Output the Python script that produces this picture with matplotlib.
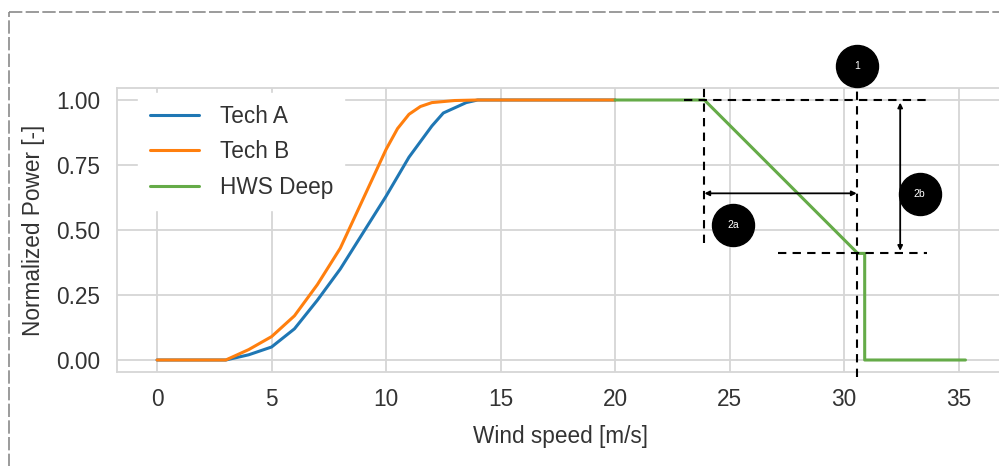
import numpy as np
import matplotlib
matplotlib.use("Agg")
import matplotlib.pyplot as plt
from matplotlib.lines import Line2D
import seaborn as sns

# Dados das curvas de potencia
wind_a = [0, 3, 4, 5, 6, 7, 8, 9, 10, 11, 12, 12.5, 13, 13.5, 14, 20]
tech_a = [0, 0, 0.02, 0.05, 0.12, 0.23, 0.35, 0.49, 0.63, 0.78, 0.90, 0.95, 0.97, 0.99, 1.0, 1.0]

wind_b = [0, 3, 4, 5, 6, 7, 8, 9, 10, 10.5, 11, 11.5, 12, 13, 14, 20]
tech_b = [0, 0, 0.04, 0.09, 0.17, 0.29, 0.43, 0.62, 0.81, 0.89, 0.945, 0.975, 0.99, 0.998, 1.0, 1.0]

wind_hws = [20, 23.9, 30.6, 30.9, 30.9, 35.3]
hws_deep = [1.0, 1.0, 0.41, 0.41, 0.0, 0.0]

labels = ["Tech A", "Tech B", "HWS Deep"]
cores = ["#1f77b4", "#ff7f0e", "#65ab48"]

# Anotacoes (posicoes em unidades de dados)
v_start, v_cut, p_cut = 23.9, 30.55, 0.41
circulos = [("1", 30.55, 1.131), ("2a", 25.15, 0.52), ("2b", 33.3, 0.64)]

sns.set_style("whitegrid")
plt.rcParams['font.family'] = ['Liberation Sans', 'DejaVu Sans']
plt.rcParams['text.color'] = '#333333'
plt.rcParams['axes.labelcolor'] = '#333333'
plt.rcParams['xtick.color'] = '#333333'
plt.rcParams['ytick.color'] = '#333333'

fig = plt.figure(figsize=(9.99, 4.66), dpi=100)
W, H = 999, 466
ax = fig.add_axes([117 / W, (H - 371.7) / H, (1003.7 - 117) / W, (371.7 - 88.3) / H])

ax.plot(wind_a, tech_a, color=cores[0], lw=2.2, label=labels[0])
ax.plot(wind_b, tech_b, color=cores[1], lw=2.2, label=labels[1])
ax.plot(wind_hws, hws_deep, color=cores[2], lw=2.2, label=labels[2])

ax.set_xlim(-1.75, 36.97)
ax.set_ylim(-0.045, 1.045)
ax.set_xticks(np.arange(0, 36, 5))
ax.set_yticks([0, 0.25, 0.5, 0.75, 1.0])
ax.set_yticklabels(["0.00", "0.25", "0.50", "0.75", "1.00"])
ax.tick_params(labelsize=16.3, pad=12, length=0)
ax.grid(color='#d6d6d6', lw=1.3)
for s in ax.spines.values():
    s.set_color('#d6d6d6')
    s.set_linewidth(1.3)

ax.set_xlabel("Wind speed [m/s]", fontsize=16.3, labelpad=10)
ax.set_ylabel("Normalized Power [-]", fontsize=16.3, labelpad=8)

ax.legend(loc='upper left', bbox_to_anchor=(0.024, 0.982), borderaxespad=0,
          fontsize=16.3, frameon=True, edgecolor='white', framealpha=1,
          handlelength=2.2, handletextpad=0.9, labelspacing=0.55, borderpad=0.5)

# Linhas tracejadas
tr = dict(color='black', lw=1.5, ls=(0, (4, 3)), clip_on=False, zorder=5)
ax.plot([v_start, v_start], [0.45, 1.064], **tr)
ax.plot([v_cut, v_cut], [-0.064, 1.085], **tr)
ax.plot([23.0, 33.6], [1.0, 1.0], **tr)
ax.plot([27.1, 33.6], [p_cut, p_cut], **tr)

# Setas
seta = dict(arrowstyle='<|-|>', color='black', lw=1.3, mutation_scale=7, shrinkA=0, shrinkB=0)
ax.annotate("", xy=(v_start, 0.641), xytext=(v_cut, 0.641), arrowprops=seta, zorder=6)
ax.annotate("", xy=(32.45, 0.99), xytext=(32.45, 0.42), arrowprops=seta, zorder=6)

# Circulos numerados
for txt, cx, cy in circulos:
    ax.scatter([cx], [cy], s=915, color='black', zorder=7, clip_on=False)
    ax.text(cx, cy, txt, color='white', fontsize=7.5, ha='center', va='center', zorder=8)

# Borda tracejada da imagem
borda = dict(color='#8a8a8a', lw=1.2, ls=(0, (8, 2)), transform=fig.transFigure)
fig.add_artist(Line2D([9 / W, 9 / W], [-0.1, 1 - 12 / H], **borda))
fig.add_artist(Line2D([9 / W, 1.1], [1 - 12 / H, 1 - 12 / H], **borda))

plt.savefig("out.png", dpi=100)
